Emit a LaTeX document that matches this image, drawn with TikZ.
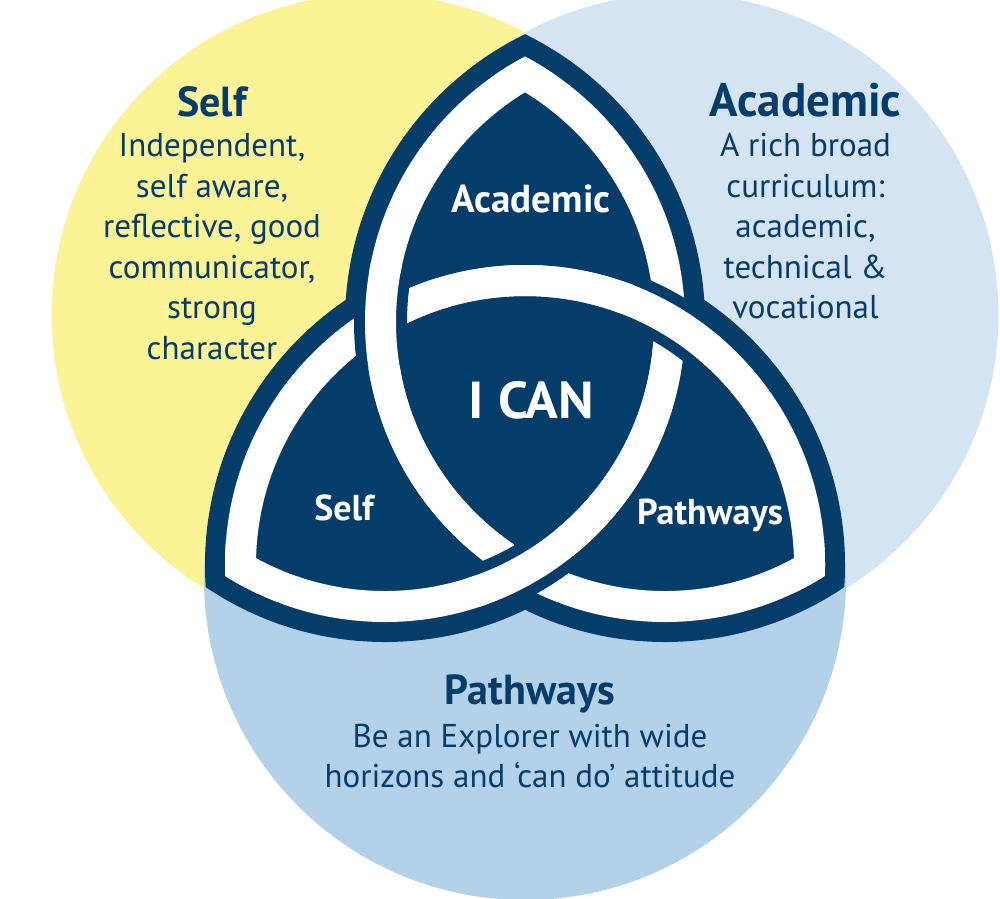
\documentclass[tikz,border=0pt]{standalone}
\usepackage{fontspec}
\setmainfont{PT Sans}
\definecolor{navy}{RGB}{4,60,106}
\definecolor{selfyellow}{RGB}{251,243,150}
\definecolor{acadblue}{RGB}{213,228,243}
\definecolor{pathblue}{RGB}{179,210,234}
\begin{document}
\begin{tikzpicture}[x=1pt,y=-1pt,
  body/.style={text=navy,font=\fontsize{33}{40}\selectfont,anchor=base,inner sep=0pt},
  head/.style={text=navy,font=\bfseries\fontsize{42}{48}\selectfont,anchor=base,inner sep=0pt},
  inlabel/.style={text=white,font=\bfseries\fontsize{36}{40}\selectfont,anchor=base,inner sep=0pt},
  biglabel/.style={text=white,font=\bfseries\fontsize{52}{56}\selectfont,anchor=base,inner sep=0pt},
  gapring/.style={fill=navy,even odd rule},
  ring/.style={fill=white,even odd rule}]
\useasboundingbox (0,0) rectangle (1000,898);
\fill[white] (0,0) rectangle (1000,898);
\begin{scope}
\clip (0,0) rectangle (1000,898);
% big Venn circles
\coordinate (YC) at (372.6,315);
\coordinate (BC) at (677.4,315);
\coordinate (PC) at (525,579);
\fill[selfyellow] (YC) circle[radius=321pt];
\fill[acadblue] (BC) circle[radius=321pt];
\fill[pathblue] (PC) circle[radius=321pt];
\end{scope}
% knot circle centres
\coordinate (KA) at (385,322);
\coordinate (KB) at (665,322);
\coordinate (KC) at (525,565);
% navy knot body
\foreach \p/\q in {KA/KB,KB/KC,KC/KA}{
  \begin{scope}
    \clip (\p) circle[radius=320pt];
    \fill[navy] (\q) circle[radius=320pt];
  \end{scope}
}
% white bands
\foreach \p/\q in {KA/KB,KA/KC,KB/KA,KB/KC,KC/KA,KC/KB}{
  \begin{scope}
    \clip (\q) circle[radius=300pt];
    \path[ring] (\p) circle[radius=300pt] (\p) circle[radius=269pt];
  \end{scope}
}
% over-crossings: B over C (left), C over A (right), A over B (bottom)
\coordinate (XL) at (380.3,319.9);
\coordinate (XR) at (669.7,319.9);
\coordinate (XB) at (525,569.7);
\foreach \k/\c in {KB/XL,KC/XR,KA/XB}{
  \begin{scope}
    \clip (\c) circle[radius=50pt];
    \path[gapring] (\k) circle[radius=311pt] (\k) circle[radius=258pt];
  \end{scope}
  \begin{scope}
    \clip (\c) circle[radius=58pt];
    \path[ring] (\k) circle[radius=300pt] (\k) circle[radius=269pt];
  \end{scope}
}
% outer texts
\node[head] (selfhead) at (212,116) {Self};
\node[body] (self1) at (212,156.5) {Independent,};
\node[body] (self2) at (212,197) {self aware,};
\node[body] (self3) at (212,237.5) {reflective, good};
\node[body] (self4) at (212,278) {communicator,};
\node[body] (self5) at (212,318.5) {strong};
\node[body] (self6) at (212,359) {character};
\node[head,font=\bfseries\fontsize{47}{50}\selectfont] (acadhead) at (805.5,116) {Academic};
\node[body] (acad1) at (805.5,156.5) {A rich broad};
\node[body] (acad2) at (805.5,197) {curriculum:};
\node[body] (acad3) at (805.5,237.5) {academic,};
\node[body] (acad4) at (805.5,278) {technical \&};
\node[body] (acad5) at (805.5,318.5) {vocational};
\node[head] (pathhead) at (530,704) {Pathways};
\node[body] (path1) at (530,747) {Be an Explorer with wide};
\node[body] (path2) at (530,787) {horizons and ‘can do’ attitude};
% inner labels
\node[inlabel,font=\bfseries\fontsize{39}{42}\selectfont] (inacad) at (531,212) {Academic};
\node[biglabel] (ican) at (531.5,418) {\scalebox{1.04}[1]{I CAN}};
\node[inlabel] (inself) at (344,520) {Self};
\node[inlabel] (inpath) at (710,524) {Pathways};
\end{tikzpicture}
\end{document}
